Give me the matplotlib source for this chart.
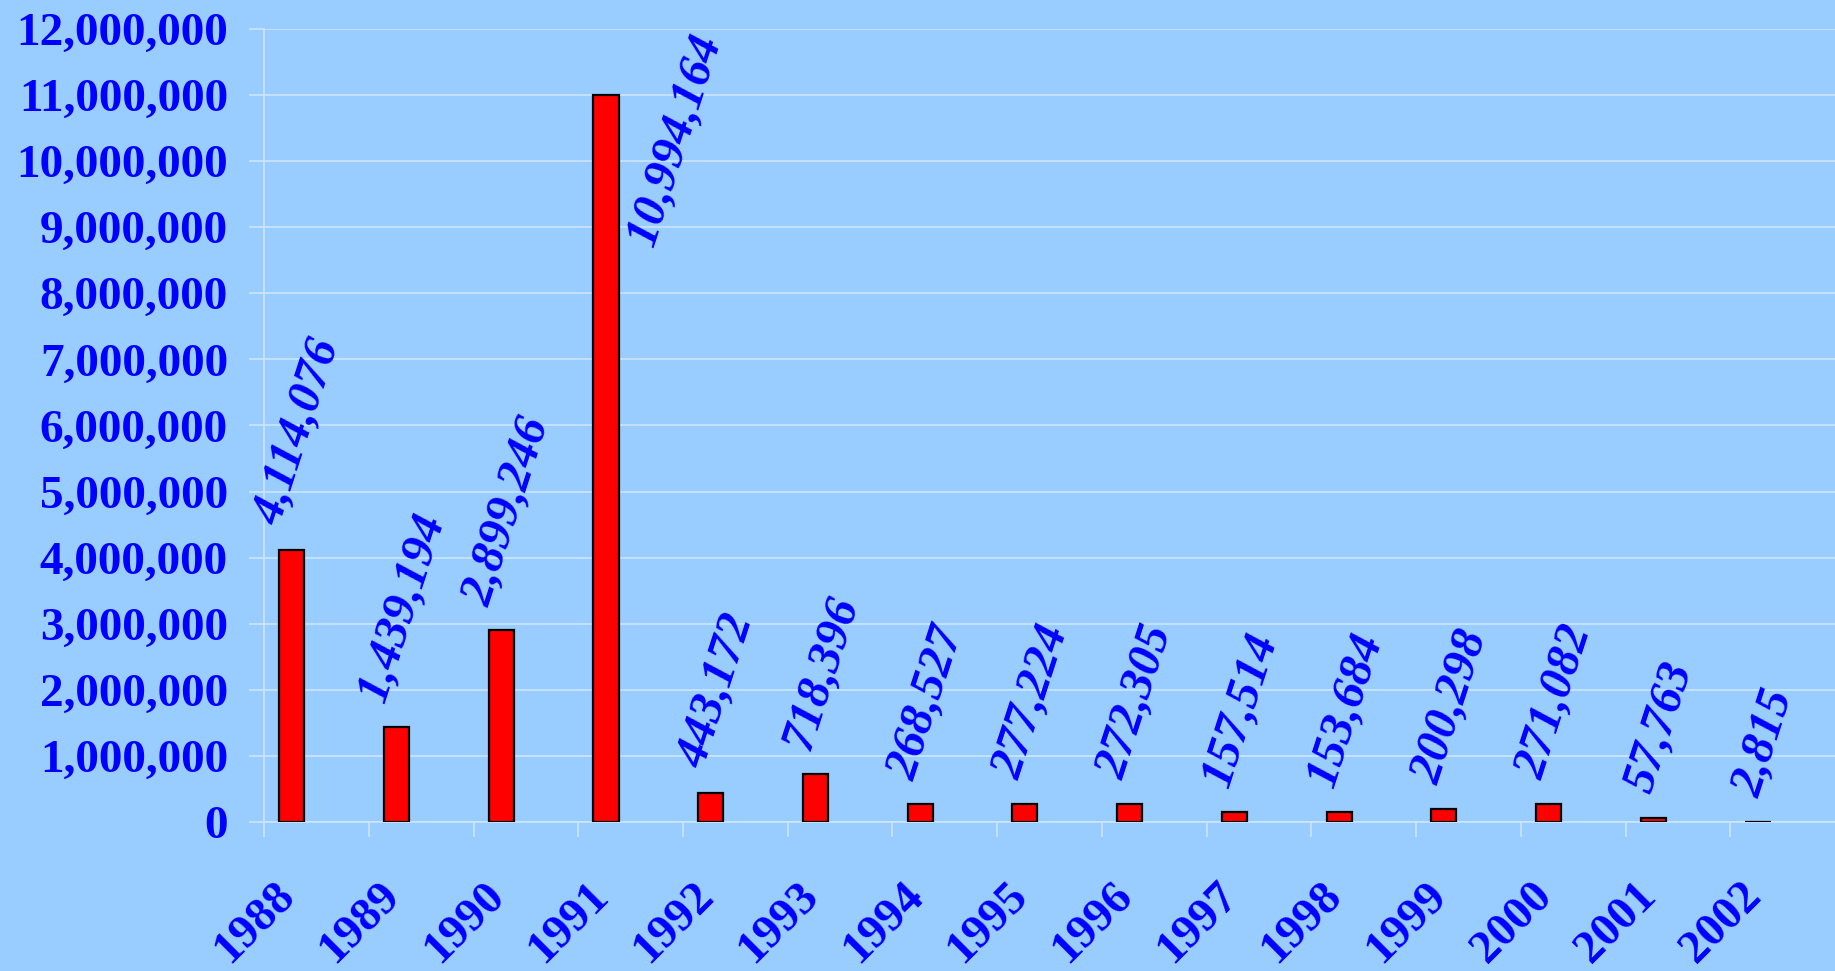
import numpy as np
import matplotlib.pyplot as plt
import matplotlib.transforms as mtransforms
from matplotlib.ticker import FuncFormatter, MultipleLocator

#DATA ----------------
YEARS = ["1988", "1989", "1990", "1991", "1992", "1993", "1994", "1995",
         "1996", "1997", "1998", "1999", "2000", "2001", "2002"]
VALUES = [4114076, 1439194, 2899246, 10994164, 443172, 718396, 268527, 277224,
          272305, 157514, 153684, 200298, 271082, 57763, 2815]

#COLORS ----------------
COLOR_BG = "#99CCFF"
COLOR_GRID = "#CCE6FF"
COLOR_BAR = "#FF0000"
COLOR_TEXT = "#0000FF"

FONT = "Liberation Serif"
Y_MAX = 12000000

fig = plt.figure(figsize=(18.35, 9.71), dpi=100, facecolor=COLOR_BG)
ax = fig.add_axes([0.1439, 0.1535, 0.8561, 0.8166], facecolor=COLOR_BG)

x = np.arange(len(YEARS))
bar_offset = -0.235
bar_width = 0.24
ax.bar(x + bar_offset, VALUES, width=bar_width, color=COLOR_BAR,
       edgecolor="black", linewidth=1.6, zorder=3)

ax.set_xlim(-0.5, len(YEARS) - 0.5)
ax.set_ylim(0, Y_MAX)

#GRID / SPINES ----------------
ax.yaxis.set_major_locator(MultipleLocator(1000000))
ax.grid(axis="y", color=COLOR_GRID, linewidth=1.2, zorder=0)
for side in ["top", "right"]:
    ax.spines[side].set_visible(False)
for side in ["left", "bottom"]:
    ax.spines[side].set_color(COLOR_GRID)
    ax.spines[side].set_linewidth(1.2)

ax.yaxis.set_major_formatter(FuncFormatter(lambda v, p: f"{int(v):,}"))
ax.tick_params(axis="y", length=11, width=1.2, color=COLOR_GRID, pad=15,
               labelsize=34, labelcolor=COLOR_TEXT)
for lab in ax.get_yticklabels():
    lab.set_fontfamily(FONT)
    lab.set_fontweight("bold")

# category boundaries get the tick marks, centres get the labels
ax.set_xticks(x - 0.5, minor=True)
ax.tick_params(axis="x", which="minor", length=11, width=1.2, color=COLOR_GRID)
ax.set_xticks(x)
ax.set_xticklabels(YEARS, rotation=45, ha="right", va="top",
                   fontfamily=FONT, fontweight="bold", fontsize=34,
                   color=COLOR_TEXT)
ax.tick_params(axis="x", which="major", length=0, pad=38)
shift = mtransforms.ScaledTranslation(-13 / 100, 0, fig.dpi_scale_trans)
for lab in ax.get_xticklabels():
    lab.set_transform(lab.get_transform() + shift)

#VALUE LABELS ----------------
top_trans = mtransforms.blended_transform_factory(ax.transData, ax.transAxes)
for xi, v in zip(x, VALUES):
    text = f"{v:,}"
    if v > 0.8 * Y_MAX:
        # too tall to sit above the bar: put it beside the bar, at the top
        ax.text(xi + bar_offset + bar_width / 2 + 0.02, 1.0, text,
                transform=top_trans, rotation=72, ha="left", va="top",
                fontfamily=FONT, fontweight="bold", fontstyle="italic",
                fontsize=35, color=COLOR_TEXT, zorder=4)
    else:
        ax.annotate(text, xy=(xi + bar_offset, v), xytext=(6, 20),
                    textcoords="offset pixels", rotation=72,
                    ha="center", va="bottom",
                    fontfamily=FONT, fontweight="bold", fontstyle="italic",
                    fontsize=35, color=COLOR_TEXT, zorder=4,
                    annotation_clip=False)

fig.savefig("out.png", dpi=100, facecolor=COLOR_BG)
